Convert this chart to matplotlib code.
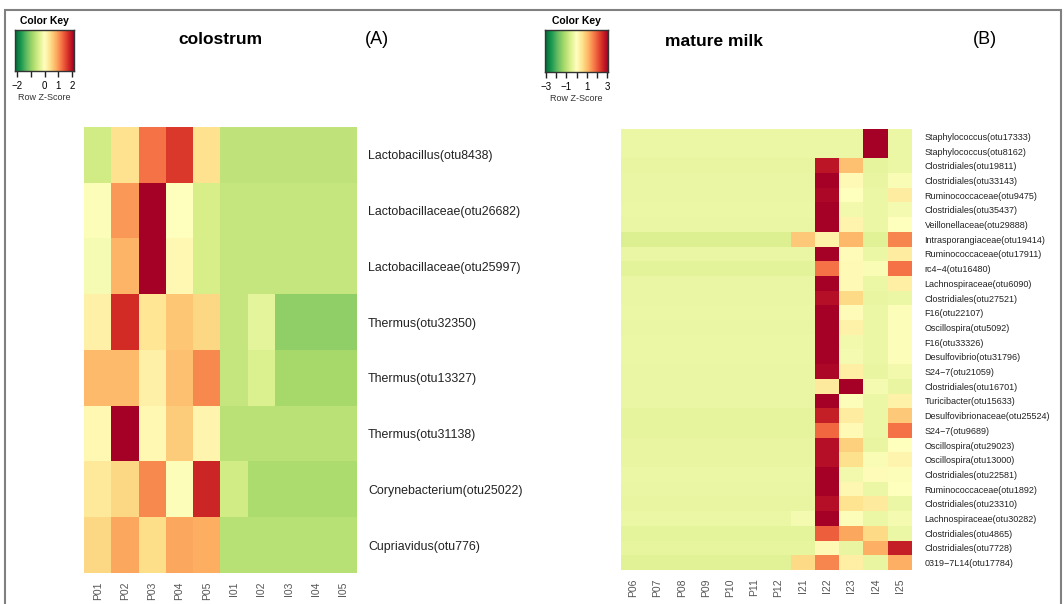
import matplotlib.pyplot as plt
import numpy as np
from matplotlib.patches import Rectangle

plt.rcParams['font.family'] = ['Liberation Sans', 'DejaVu Sans']

W, H = 1064, 604

# colostrum (A)
left_rows = ["Lactobacillus(otu8438)", "Lactobacillaceae(otu26682)", "Lactobacillaceae(otu25997)",
             "Thermus(otu32350)", "Thermus(otu13327)", "Thermus(otu31138)",
             "Corynebacterium(otu25022)", "Cupriavidus(otu776)"]
left_cols = ["P01", "P02", "P03", "P04", "P05", "I01", "I02", "I03", "I04", "I05"]
left_z = [
    [-0.50, 0.40, 1.25, 1.65, 0.40, -0.65, -0.65, -0.65, -0.65, -0.65],
    [-0.05, 1.00, 2.50, 0.00, -0.45, -0.60, -0.60, -0.60, -0.60, -0.60],
    [-0.10, 0.80, 2.65, 0.10, -0.45, -0.60, -0.60, -0.60, -0.60, -0.60],
    [0.20, 1.75, 0.35, 0.65, 0.50, -0.60, -0.30, -1.00, -1.00, -1.00],
    [0.75, 0.75, 0.20, 0.70, 1.10, -0.60, -0.40, -0.85, -0.85, -0.85],
    [0.10, 2.60, 0.10, 0.60, 0.15, -0.70, -0.70, -0.70, -0.70, -0.70],
    [0.30, 0.50, 1.10, -0.05, 1.80, -0.50, -0.80, -0.80, -0.80, -0.80],
    [0.50, 0.90, 0.45, 0.90, 0.85, -0.72, -0.72, -0.72, -0.72, -0.72],
]

# mature milk (B)
right_rows = ["Staphylococcus(otu17333)", "Staphylococcus(otu8162)", "Clostridiales(otu19811)",
              "Clostridiales(otu33143)", "Ruminococcaceae(otu9475)", "Clostridiales(otu35437)",
              "Veillonellaceae(otu29888)", "Intrasporangiaceae(otu19414)", "Ruminococcaceae(otu17911)",
              "rc4\u22124(otu16480)", "Lachnospiraceae(otu6090)", "Clostridiales(otu27521)",
              "F16(otu22107)", "Oscillospira(otu5092)", "F16(otu33326)", "Desulfovibrio(otu31796)",
              "S24\u22127(otu21059)", "Clostridiales(otu16701)", "Turicibacter(otu15633)",
              "Desulfovibrionaceae(otu25524)", "S24\u22127(otu9689)", "Oscillospira(otu29023)",
              "Oscillospira(otu13000)", "Clostridiales(otu22581)", "Ruminococcaceae(otu1892)",
              "Clostridiales(otu23310)", "Lachnospiraceae(otu30282)", "Clostridiales(otu4865)",
              "Clostridiales(otu7728)", "0319\u22127L14(otu17784)"]
right_cols = ["P06", "P07", "P08", "P09", "P10", "P11", "P12", "I21", "I22", "I23", "I24", "I25"]
# one level shared by the seven P columns of each row
right_p = [-0.30, -0.30, -0.35, -0.33, -0.32, -0.31, -0.32, -0.55, -0.32, -0.45,
           -0.32, -0.33, -0.31, -0.32, -0.30, -0.30, -0.32, -0.33, -0.32, -0.40,
           -0.40, -0.35, -0.35, -0.30, -0.32, -0.35, -0.30, -0.42, -0.38, -0.50]
# I21..I25
right_i = [
    [-0.30, -0.30, -0.30, 3.30, -0.30],
    [-0.30, -0.30, -0.30, 3.30, -0.30],
    [-0.35, 2.80, 1.00, -0.40, -0.30],
    [-0.33, 3.10, 0.10, -0.35, -0.10],
    [-0.32, 3.00, 0.00, -0.30, 0.35],
    [-0.31, 3.10, -0.20, -0.30, -0.15],
    [-0.32, 3.10, 0.20, -0.30, 0.00],
    [0.90, 0.25, 1.10, -0.50, 1.60],
    [-0.32, 3.10, 0.05, -0.30, 0.35],
    [-0.45, 1.80, 0.10, -0.10, 1.80],
    [-0.32, 3.10, 0.10, -0.30, 0.30],
    [-0.33, 2.90, 0.70, -0.35, -0.30],
    [-0.31, 3.10, 0.05, -0.30, -0.05],
    [-0.32, 3.10, 0.25, -0.30, -0.05],
    [-0.30, 3.10, -0.20, -0.30, -0.05],
    [-0.30, 3.10, -0.15, -0.30, -0.05],
    [-0.32, 3.00, 0.30, -0.35, -0.20],
    [-0.33, 0.40, 3.20, -0.15, -0.35],
    [-0.32, 3.10, -0.05, -0.30, 0.25],
    [-0.40, 2.70, 0.35, -0.30, 0.90],
    [-0.40, 1.90, 0.10, -0.30, 1.80],
    [-0.35, 2.90, 0.80, -0.35, 0.00],
    [-0.35, 2.90, 0.60, -0.10, 0.20],
    [-0.30, 3.10, -0.20, 0.05, -0.05],
    [-0.32, 3.10, 0.15, -0.30, 0.00],
    [-0.35, 2.90, 0.55, 0.40, -0.30],
    [-0.15, 3.20, -0.05, -0.30, -0.15],
    [-0.42, 2.00, 1.30, 0.70, -0.30],
    [-0.38, 0.10, -0.35, 1.20, 2.70],
    [0.70, 1.60, 0.30, -0.35, 1.20],
]
right_z = np.column_stack([np.repeat(np.array(right_p)[:, None], 7, axis=1), np.array(right_i)])

CMAP = "RdYlGn_r"


def box(x0, y0, x1, y1):
    # pixel box -> figure fraction rect
    return [x0 / W, 1 - y1 / H, (x1 - x0) / W, (y1 - y0) / H]


def draw_heat(fig, rect, z, rows, cols, vlim, row_fs, row_pad, col_fs):
    ax = fig.add_axes(rect)
    ax.imshow(z, cmap=CMAP, vmin=-vlim, vmax=vlim, aspect="auto", interpolation="nearest")
    ax.set_xticks(range(len(cols)))
    ax.set_xticklabels(cols, rotation=90, fontsize=col_fs, color="#555555")
    ax.set_yticks(range(len(rows)))
    ax.set_yticklabels(rows, fontsize=row_fs, color="#222222")
    ax.yaxis.tick_right()
    ax.tick_params(length=0)
    ax.tick_params(axis="y", pad=row_pad)
    ax.tick_params(axis="x", pad=6)
    for s in ax.spines.values():
        s.set_visible(False)
    return ax


def draw_key(fig, rect, vlim, ticks, labels):
    ax = fig.add_axes(rect)
    grad = np.linspace(-vlim, vlim, 256)[None, :]
    ax.imshow(grad, cmap=CMAP, vmin=-vlim, vmax=vlim, aspect="auto", extent=[-vlim, vlim, 0, 1])
    ax.set_xlim(-vlim, vlim)
    ax.set_xticks(ticks)
    ax.set_xticklabels(labels)
    ax.set_yticks([])
    ax.tick_params(axis="x", length=4, width=1, labelsize=7, pad=3, color="#222222")
    for s in ax.spines.values():
        s.set_linewidth(1)
        s.set_color("#333333")
    ax.set_title("Color Key", fontsize=7.5, fontweight="bold", pad=4)
    ax.set_xlabel("Row Z-Score", fontsize=6.5, labelpad=2, color="#333333")
    return ax


fig = plt.figure(figsize=(W / 100, H / 100), dpi=100)

# outer grey frame
fig.add_artist(Rectangle((5 / W, -0.1), (1061 - 5) / W, 1.1 - 10 / H, transform=fig.transFigure,
                         fill=False, edgecolor="#808080", linewidth=1.5))

draw_key(fig, box(15, 30, 74, 71), 2.15, [-2, -1, 0, 1, 2], ["\u22122", "", "0", "1", "2"])
draw_key(fig, box(545, 30, 608, 72), 3.1, [-3, -2, -1, 0, 1, 2, 3],
         ["\u22123", "", "\u22121", "", "1", "", "3"])

draw_heat(fig, box(84, 127, 357, 573), left_z, left_rows, left_cols, 2.15, 8.9, 8, 7.5)
draw_heat(fig, box(621, 129, 912, 570), right_z, right_rows, right_cols, 3.1, 6.5, 9, 7.5)

fig.text(220 / W, 1 - 40 / H, "colostrum", fontsize=12.5, fontweight="bold", ha="center", va="center")
fig.text(377 / W, 1 - 40 / H, "(A)", fontsize=13, ha="center", va="center")
fig.text(714 / W, 1 - 42 / H, "mature milk", fontsize=12.5, fontweight="bold", ha="center", va="center")
fig.text(985 / W, 1 - 40 / H, "(B)", fontsize=13, ha="center", va="center")

fig.savefig("out.png", dpi=100)
